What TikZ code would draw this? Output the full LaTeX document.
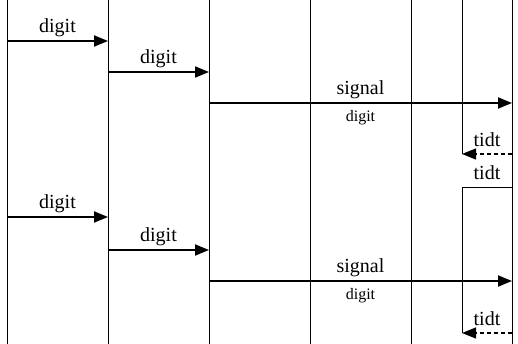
\documentclass[tikz,border=0pt]{standalone}
\usepackage{fontspec}
\setmainfont{Liberation Serif}
\usetikzlibrary{arrows.meta}

\begin{document}
\begin{tikzpicture}[%
        % one unit is one pixel of the picture, y grows downwards
        x=1pt,y=-1pt,
        lifeline/.style={line width=0.8pt},
        msg/.style={line width=2pt,-{Triangle[length=14pt,width=11pt]}},
        ret/.style={line width=1.2pt,dash pattern=on 4pt off 3pt,-{Triangle[length=14pt,width=11pt]}},
        biglabel/.style={font=\fontsize{20}{24}\selectfont,inner sep=3pt},
        sublabel/.style={font=\fontsize{16}{19}\selectfont,inner sep=3pt}
        ]

        \def\W{518};
        \def\H{344};
        \useasboundingbox (0,0) rectangle (\W,\H);

        % draw lifelines
        \foreach \x [count=\i] in {7,108,209,310,411,512}{
            \coordinate (top\i) at (\x,0);  % top of lifeline
            \coordinate (bot\i) at (\x,\H);  % bottom of lifeline
            \draw[lifeline] (top\i) -- (bot\i);
        }

        % draw activation boxes on the last lifeline
        \coordinate (act1top) at (462,0);
        \coordinate (act1bot) at (462,154);
        \coordinate (act2top) at (462,187);
        \coordinate (act2bot) at (462,333);
        \draw[lifeline] (act1top) -- (act1bot);
        \draw[lifeline] (top6 |- act2top) -- node[above=4pt,biglabel]{tidt} (act2top) -- (act2bot);

        % draw the two rounds of messages
        \foreach \ya/\yb/\yc/\yd in {41/72/103/154,217/250/281/333}{
            \draw[msg] (top1 |- 0,\ya) -- node[above,biglabel]{digit} (top2 |- 0,\ya);
            \draw[msg] (top2 |- 0,\yb) -- node[above,biglabel]{digit} (top3 |- 0,\yb);
            \draw[msg] (top3 |- 0,\yc) -- node[above,biglabel]{signal}
                node[below=3.5pt,sublabel]{digit} (top6 |- 0,\yc);
            \draw[ret] (top6 |- 0,\yd) -- node[above=4pt,biglabel]{tidt} (act1top |- 0,\yd);
        }

\end{tikzpicture}
\end{document}
